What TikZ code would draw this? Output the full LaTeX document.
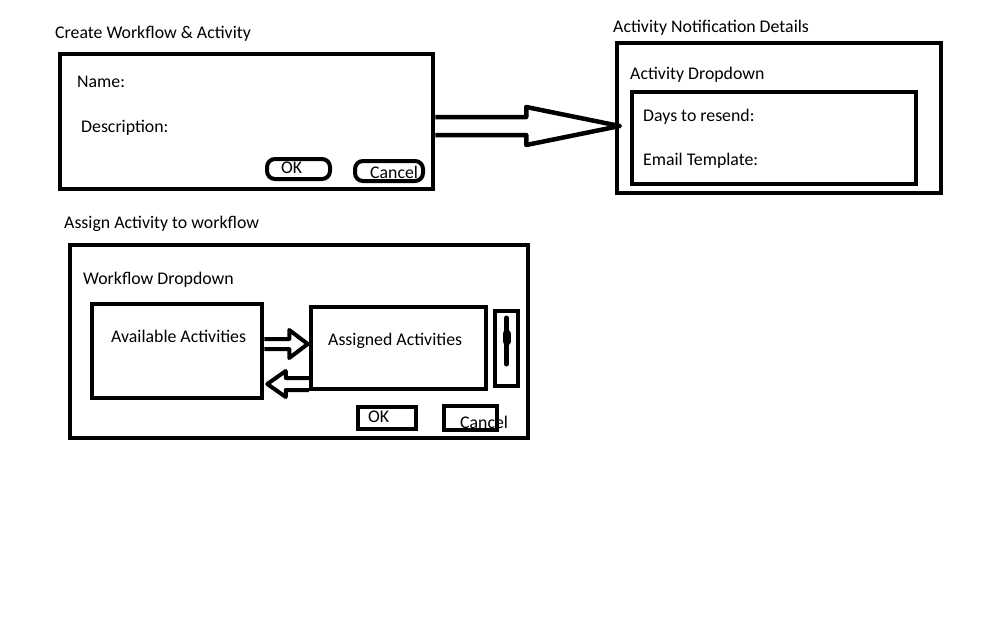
\documentclass[tikz,border=0pt]{standalone}
\usepackage{fontspec}
\setmainfont{Carlito}
\usetikzlibrary{calc}
\definecolor{inkblack}{HTML}{000000}
\tikzset{
  panel/.style={draw=inkblack, line width=4.5pt, inner sep=0pt},
  btnround/.style={draw=inkblack, line width=4pt, rounded corners=8pt, inner sep=0pt},
  btnsquare/.style={draw=inkblack, line width=4pt, inner sep=0pt},
  lbl/.style={anchor=base west, inner sep=0pt, text=inkblack,
              font=\fontsize{17.8}{20}\selectfont},
  blockarrow/.style={draw=inkblack, line width=4.5pt, line join=round},
  thumb/.style={draw=inkblack, line cap=round},
}
\begin{document}
\begin{tikzpicture}[x=1pt, y=-1pt]
\useasboundingbox[fill=white] (0,0) rectangle (1008,630);

% ---- create workflow & activity (top left) ----
\node[lbl] (t1) at (55,38) {Create Workflow \& Activity};
\node[panel, minimum width=373pt, minimum height=135pt] (create) at (246.5,121.5) {};
\node[lbl] (name) at (77,87) {Name:};
\node[lbl] (desc) at (81,132) {Description:};
\node[lbl] (oktxt1) at (281,173) {OK};
\node[lbl] (canceltxt1) at (370,178) {Cancel};
\node[btnround, minimum width=63pt, minimum height=20pt] (ok1) at (298.5,169) {};
\node[btnround, minimum width=68pt, minimum height=20pt] (cancel1) at (389,171) {};

% ---- activity notification details (top right) ----
\node[lbl] (t2) at (613,32) {Activity Notification Details};
\node[panel, minimum width=324pt, minimum height=150pt] (notify) at (779,118) {};
\node[lbl] (actdrop) at (630,79) {Activity Dropdown};
\node[panel, minimum width=284pt, minimum height=92pt] (details) at (774,138) {};
\node[lbl] (days) at (643,121) {Days to resend:};
\node[lbl] (email) at (643,165) {Email Template:};

% big block arrow : create -> notify
\coordinate (bigtail) at ($(create.east)+(0,4.5)$);
\coordinate (bigtip) at ($(notify.west)+(5,8)$);
\draw[blockarrow] ($(bigtail)+(0,-9)$) -- ++(91,0) -- ++(0,-10) -- (bigtip)
      -- ($(bigtail)+(91,19)$) -- ++(0,-10) -- ($(bigtail)+(0,9)$);

% ---- assign activity to workflow (bottom) ----
\node[lbl] (t3) at (64,228) {Assign Activity to workflow};
\node[panel, minimum width=458pt, minimum height=193pt] (assign) at (299,341.5) {};
\node[lbl] (wfdrop) at (83,284) {Workflow Dropdown};
\node[panel, minimum width=170pt, minimum height=94pt] (avail) at (177,351) {};
\node[lbl] (availtxt) at (111,342) {Available Activities};
\node[panel, minimum width=175pt, minimum height=82pt] (assigned) at (398.5,348) {};
\node[lbl] (assignedtxt) at (328,345) {Assigned Activities};

% scroll bar
\node[panel, line width=4pt, minimum width=23pt, minimum height=75pt] (scroll) at (506.5,348.5) {};
\draw[thumb, line width=5pt] ($(scroll.center)+(0,-30.5)$) -- ($(scroll.center)+(0,15.5)$);
\draw[thumb, line width=8pt] ($(scroll.center)+(0,-15)$) -- ($(scroll.center)+(0,-7)$);

% small block arrows between the lists
\coordinate (fwdtail) at ($(avail.east)+(0,-7)$);
\coordinate (fwdtip) at ($(assigned.west)+(-1,-4)$);
\draw[blockarrow, line width=4pt] ($(fwdtail)+(0,-5)$) -- ++(25,0) -- ++(0,-9) -- (fwdtip)
      -- ($(fwdtail)+(25,14)$) -- ++(0,-9) -- ($(fwdtail)+(0,5)$);
\coordinate (backtail) at ($(assigned.west)+(0,36)$);
\coordinate (backtip) at ($(avail.east)+(3,33)$);
\draw[blockarrow, line width=4pt] ($(backtail)+(0,-6)$) -- ++(-23,0) -- ++(0,-7) -- (backtip)
      -- ($(backtail)+(-23,13)$) -- ++(0,-7) -- ($(backtail)+(0,6)$);

% buttons
\node[lbl] (oktxt2) at (368,422) {OK};
\node[lbl] (canceltxt2) at (460,428) {Cancel};
\node[btnsquare, minimum width=58pt, minimum height=22pt] (ok2) at (387,418) {};
\node[btnsquare, minimum width=53pt, minimum height=24pt] (cancel2) at (470.5,418) {};

\end{tikzpicture}
\end{document}
